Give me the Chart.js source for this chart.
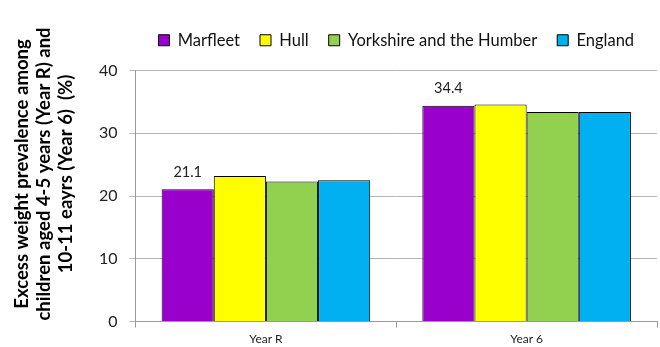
<!DOCTYPE html>
<html>
<head>
<meta charset="utf-8">
<script src="https://cdn.jsdelivr.net/npm/chart.js@4.4.1/dist/chart.umd.min.js"></script>
<style>
  body { margin: 0; background: #fff; }
  #wrap { width: 660px; height: 347px; }
</style>
</head>
<body>
<div id="wrap"><canvas id="myChart" width="660" height="347"></canvas></div>
<script>
// categories and series
const categories = ['Year R', 'Year 6'];
const marfleet = [21.1, 34.4];
const hull = [23.2, 34.6];
const yorkshire = [22.3, 33.4];
const england = [22.5, 33.4];
const yTicks = [0, 10, 20, 30, 40];

const titleLines = [
  'Excess weight prevalence among',
  'children aged 4-5 years (Year R) and',
  '10-11 eayrs (Year 6)  (%)'
];

const FONT = 'Lato, "Open Sans", sans-serif';

// value labels above the Marfleet bars only
const valueLabels = {
  id: 'valueLabels',
  afterDatasetsDraw(chart) {
    const ctx = chart.ctx;
    const meta = chart.getDatasetMeta(0);
    ctx.save();
    ctx.font = '14.5px ' + FONT;
    ctx.fillStyle = '#222';
    ctx.textAlign = 'center';
    ctx.textBaseline = 'bottom';
    meta.data.forEach((bar, i) => {
      ctx.fillText(marfleet[i].toFixed(1), bar.x, bar.y - 10);
    });
    ctx.restore();
  }
};

// rotated three-line y axis title
const yTitle = {
  id: 'yTitle',
  afterDraw(chart) {
    const ctx = chart.ctx;
    ctx.save();
    ctx.translate(0, 174);
    ctx.rotate(-Math.PI / 2);
    ctx.font = 'bold 18.5px ' + FONT;
    ctx.fillStyle = '#000';
    ctx.textAlign = 'center';
    ctx.textBaseline = 'middle';
    const xs = [22, 44, 66];
    titleLines.forEach((line, i) => {
      ctx.fillText(line, 0, xs[i]);
    });
    ctx.restore();
  }
};

// extra room under the legend
const legendGap = {
  id: 'legendGap',
  beforeInit(chart) {
    const fit = chart.legend.fit;
    chart.legend.fit = function() {
      fit.bind(chart.legend)();
      this.height += 12;
    };
  }
};

function makeSet(label, values, color) {
  return {
    label: label,
    data: values,
    backgroundColor: color,
    borderColor: '#000',
    borderWidth: 1,
    categoryPercentage: 0.8,
    barPercentage: 1.0
  };
}

const ctx = document.getElementById('myChart').getContext('2d');
const chart = new Chart(ctx, {
  type: 'bar',
  data: {
    labels: categories,
    datasets: [
      makeSet('Marfleet', marfleet, '#9900CC'),
      makeSet('Hull', hull, '#FFFF00'),
      makeSet('Yorkshire and the Humber', yorkshire, '#92D050'),
      makeSet('England', england, '#00B0F0')
    ]
  },
  options: {
    responsive: false,
    animation: false,
    layout: { padding: { left: 87, right: 3, top: 12, bottom: -3 } },
    plugins: {
      tooltip: { enabled: false },
      legend: {
        position: 'top',
        fullSize: false,
        labels: {
          boxWidth: 11,
          boxHeight: 11,
          padding: 20,
          color: '#111',
          font: { family: FONT, size: 16.5 }
        }
      }
    },
    scales: {
      x: {
        offset: true,
        grid: {
          offset: true,
          drawOnChartArea: false,
          drawTicks: true,
          tickLength: 6,
          color: '#999'
        },
        border: { color: '#999' },
        ticks: { color: '#222', font: { family: FONT, size: 12 }, padding: 4 }
      },
      y: {
        min: 0,
        max: 40,
        afterBuildTicks(axis) {
          axis.ticks = yTicks.map(v => ({ value: v }));
        },
        grid: { color: '#b5b5b5', tickLength: 6 },
        border: { color: '#999' },
        ticks: { color: '#222', font: { family: FONT, size: 16 }, padding: 12 }
      }
    }
  },
  plugins: [valueLabels, yTitle, legendGap]
});
</script>
</body>
</html>
